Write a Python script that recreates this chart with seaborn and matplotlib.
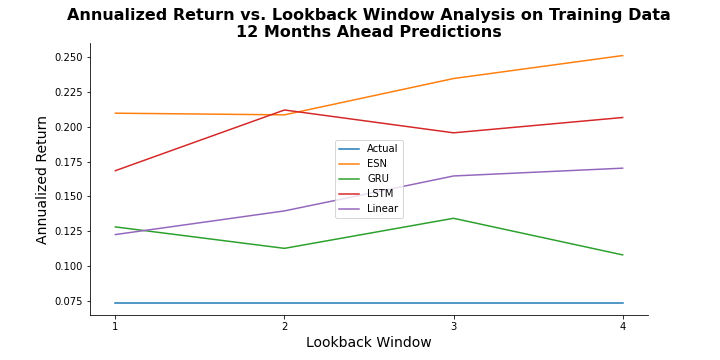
import numpy as np
import pandas as pd
import matplotlib
matplotlib.use("Agg")
import matplotlib.pyplot as plt
import seaborn as sns

lookback = [1, 2, 3, 4]
actual = [0.0737, 0.0737, 0.0737, 0.0737]
esn = [0.2098, 0.2086, 0.2347, 0.2512]
gru = [0.1281, 0.1127, 0.1343, 0.1080]
lstm = [0.1685, 0.2121, 0.1957, 0.2067]
linear = [0.1226, 0.1396, 0.1647, 0.1703]

models = ["Actual", "ESN", "GRU", "LSTM", "Linear"]
series = [actual, esn, gru, lstm, linear]

df = pd.DataFrame({
    "Lookback Window": lookback * len(models),
    "Annualized Return": [v for s in series for v in s],
    "Model": [m for m in models for _ in lookback],
})

plt.rcParams["font.family"] = ["DejaVu Sans"]

fig, ax = plt.subplots(figsize=(10, 5), dpi=72)
fig.subplots_adjust(left=0.125, right=0.9, top=0.88, bottom=0.125)

sns.lineplot(data=df, x="Lookback Window", y="Annualized Return", hue="Model",
             hue_order=models, palette="tab10", ax=ax, linewidth=1.5)

ax.set_xticks(lookback)
ax.set_xlabel("Lookback Window", fontsize=14)
ax.set_ylabel("Annualized Return", fontsize=14)
ax.set_title("Annualized Return vs. Lookback Window Analysis on Training Data\n12 Months Ahead Predictions",
             fontsize=16, fontweight="bold")
ax.tick_params(labelsize=10)
leg = ax.legend(loc="center", fontsize=10, title=None)
sns.despine(ax=ax)

fig.savefig("out.png", dpi=72)
